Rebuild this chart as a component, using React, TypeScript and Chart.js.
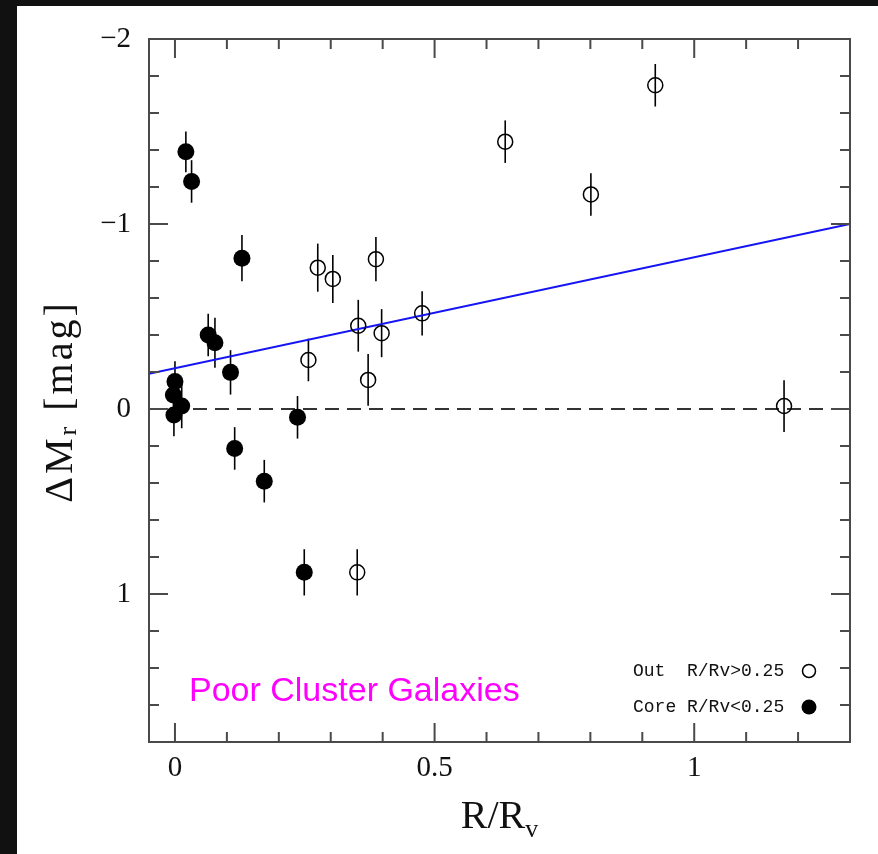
import React, { useEffect, useRef } from 'react';
import { Chart, registerables } from 'chart.js';

Chart.register(...registerables);

// ---- data ----
const coreX = [0.021, 0.032, 0.129, 0.064, 0.077, 0.107, 0.0, -0.003, 0.013, -0.002, 0.236, 0.115, 0.172, 0.249];
const coreY = [-1.39, -1.23, -0.815, -0.4, -0.358, -0.198, -0.148, -0.076, -0.016, 0.032, 0.045, 0.213, 0.39, 0.883];
const coreErr = [0.11, 0.115, 0.125, 0.115, 0.135, 0.12, 0.11, 0.11, 0.12, 0.115, 0.115, 0.115, 0.115, 0.125];

const outX = [0.275, 0.304, 0.387, 0.353, 0.398, 0.476, 0.257, 0.372, 0.351, 0.636, 0.801, 0.925, 1.173];
const outY = [-0.764, -0.703, -0.81, -0.45, -0.41, -0.517, -0.265, -0.157, 0.883, -1.445, -1.16, -1.75, -0.016];
const outErr = [0.13, 0.13, 0.12, 0.14, 0.13, 0.12, 0.115, 0.14, 0.125, 0.115, 0.115, 0.115, 0.14];

const fitX = [-0.05, 1.3];
const fitY = [-0.19, -1.0];
const zeroX = [-0.05, 1.3];
const zeroY = [0, 0];

const xRange = [-0.05, 1.3];
const yRange = [-2, 1.8];
const xTickValues = [0, 0.5, 1];
const yTickValues = [-2, -1, 0, 1];
const xMinorStep = 0.1;
const yMinorStep = 0.2;

const outLabel = 'Out  R/Rv>0.25';
const coreLabel = 'Core R/Rv<0.25';
const panelLabel = 'Poor Cluster Galaxies';

const toPts = (xs: number[], ys: number[]) => xs.map((x, i) => ({ x, y: ys[i] }));

const fmt = (v: number) => (v < 0 ? '\u2212' + Math.abs(v) : String(v));

const SERIF = '"Liberation Serif", "DejaVu Serif", serif';

const decorPlugin = {
  id: 'decor',
  beforeDatasetsDraw(chart: any) {
    const { ctx, scales } = chart;
    const xs = scales.x;
    const ys = scales.y;
    ctx.save();
    ctx.beginPath();
    ctx.rect(chart.chartArea.left, chart.chartArea.top, chart.chartArea.right - chart.chartArea.left, chart.chartArea.bottom - chart.chartArea.top);
    ctx.clip();
    ctx.strokeStyle = '#000';
    ctx.lineWidth = 1.6;
    chart.data.datasets.forEach((ds: any) => {
      if (!ds.errors) return;
      ds.data.forEach((p: any, i: number) => {
        const e = ds.errors[i];
        const px = xs.getPixelForValue(p.x);
        ctx.beginPath();
        ctx.moveTo(px, ys.getPixelForValue(p.y - e));
        ctx.lineTo(px, ys.getPixelForValue(p.y + e));
        ctx.stroke();
      });
    });
    ctx.restore();
  },
  afterDraw(chart: any) {
    const { ctx, chartArea: a, scales } = chart;
    const xs = scales.x;
    const ys = scales.y;
    ctx.save();
    // frame
    ctx.strokeStyle = '#4a4a4a';
    ctx.lineWidth = 2;
    ctx.strokeRect(a.left, a.top, a.right - a.left, a.bottom - a.top);
    // inward ticks on all four sides
    const major = 19;
    const minor = 10;
    ctx.beginPath();
    for (let k = Math.ceil(xRange[0] / xMinorStep); k * xMinorStep <= xRange[1] + 1e-9; k++) {
      const v = +(k * xMinorStep).toFixed(6);
      const px = xs.getPixelForValue(v);
      if (px <= a.left + 1 || px >= a.right - 1) continue;
      const len = xTickValues.some((t) => Math.abs(t - v) < 1e-6) ? major : minor;
      ctx.moveTo(px, a.bottom);
      ctx.lineTo(px, a.bottom - len);
      ctx.moveTo(px, a.top);
      ctx.lineTo(px, a.top + len);
    }
    for (let k = Math.ceil(yRange[0] / yMinorStep); k * yMinorStep <= yRange[1] + 1e-9; k++) {
      const v = +(k * yMinorStep).toFixed(6);
      const py = ys.getPixelForValue(v);
      if (py <= a.top + 1 || py >= a.bottom - 1) continue;
      const len = yTickValues.some((t) => Math.abs(t - v) < 1e-6) ? major : minor;
      ctx.moveTo(a.left, py);
      ctx.lineTo(a.left + len, py);
      ctx.moveTo(a.right, py);
      ctx.lineTo(a.right - len, py);
    }
    ctx.stroke();

    ctx.fillStyle = '#111';
    ctx.textBaseline = 'alphabetic';
    // y title: ΔM_r [mag]
    ctx.save();
    const cy = (a.top + a.bottom) / 2 + 11;
    ctx.translate(72, cy);
    ctx.rotate(-Math.PI / 2);
    (ctx as any).letterSpacing = '3px';
    const big = '40px ' + SERIF;
    const small = '26px ' + SERIF;
    ctx.font = big;
    const w1 = ctx.measureText('\u0394M').width;
    const w3 = ctx.measureText(' [mag]').width;
    ctx.font = small;
    const w2 = ctx.measureText('r').width;
    let pos = -(w1 + w2 + w3) / 2;
    ctx.font = big;
    ctx.textAlign = 'left';
    ctx.fillText('\u0394M', pos, 0);
    pos += w1;
    ctx.font = small;
    ctx.fillText('r', pos, 4);
    pos += w2;
    ctx.font = big;
    ctx.fillText(' [mag]', pos, 0);
    ctx.restore();

    // x title: R/R_v
    ctx.save();
    ctx.font = big;
    const t1 = ctx.measureText('R/R').width;
    ctx.font = small;
    const t2 = ctx.measureText('v').width;
    let xp = (a.left + a.right) / 2 - (t1 + t2) / 2;
    ctx.font = big;
    ctx.textAlign = 'left';
    ctx.fillText('R/R', xp, 828);
    xp += t1;
    ctx.font = small;
    ctx.fillText('v', xp, 837);
    ctx.restore();

    // legend
    ctx.font = '18px "Liberation Mono", "DejaVu Sans Mono", monospace';
    ctx.textAlign = 'left';
    ctx.textBaseline = 'middle';
    ctx.fillStyle = '#111';
    const ly1 = a.bottom - 71;
    const ly2 = a.bottom - 35;
    ctx.fillText(outLabel, a.right - 217, ly1);
    ctx.fillText(coreLabel, a.right - 217, ly2);
    ctx.strokeStyle = '#000';
    ctx.lineWidth = 1.5;
    ctx.beginPath();
    ctx.arc(a.right - 41, ly1, 6.5, 0, Math.PI * 2);
    ctx.stroke();
    ctx.fillStyle = '#000';
    ctx.beginPath();
    ctx.arc(a.right - 41, ly2, 7.5, 0, Math.PI * 2);
    ctx.fill();

    // panel label
    ctx.fillStyle = '#ff00ff';
    ctx.textBaseline = 'alphabetic';
    ctx.font = '34px "Liberation Sans", Arial, sans-serif';
    ctx.fillText(panelLabel, a.left + 40, a.bottom - 41);
    ctx.restore();
  },
};

export default function App() {
  const ref = useRef<HTMLCanvasElement>(null);
  useEffect(() => {
    if (!ref.current) return;
    const tickFont = { family: SERIF, size: 29 };
    const chart = new Chart(ref.current, {
      type: 'scatter',
      data: {
        datasets: [
          {
            label: coreLabel,
            data: toPts(coreX, coreY),
            errors: coreErr,
            pointRadius: 8.5,
            pointHoverRadius: 8.5,
            pointBackgroundColor: '#000',
            pointBorderColor: '#000',
            pointBorderWidth: 0,
          } as any,
          {
            label: outLabel,
            data: toPts(outX, outY),
            errors: outErr,
            pointRadius: 7.5,
            pointHoverRadius: 7.5,
            pointBackgroundColor: 'rgba(0,0,0,0)',
            pointBorderColor: '#000',
            pointBorderWidth: 1.5,
          } as any,
          {
            label: 'fit',
            data: toPts(fitX, fitY),
            showLine: true,
            pointRadius: 0,
            borderColor: 'rgb(20,20,245)',
            borderWidth: 2,
          },
          {
            label: 'zero',
            data: toPts(zeroX, zeroY),
            showLine: true,
            pointRadius: 0,
            borderColor: '#333',
            borderWidth: 2,
            borderDash: [14, 8],
          },
        ],
      },
      options: {
        animation: false,
        responsive: false,
        events: [],
        layout: { padding: { top: 39, right: 28, left: 0, bottom: 0 } },
        plugins: { legend: { display: false }, tooltip: { enabled: false } },
        scales: {
          x: {
            type: 'linear',
            position: 'bottom',
            min: xRange[0],
            max: xRange[1],
            grid: { display: false, drawTicks: false },
            border: { display: false },
            ticks: { font: tickFont, color: '#111', padding: 9, callback: (v: any) => fmt(Number(v)) },
            afterBuildTicks: (s: any) => {
              s.ticks = xTickValues.map((value) => ({ value }));
            },
            afterFit: (s: any) => {
              s.height = 112;
            },
          },
          y: {
            type: 'linear',
            min: yRange[0],
            max: yRange[1],
            reverse: true,
            grid: { display: false, drawTicks: false },
            border: { display: false },
            ticks: { font: tickFont, color: '#111', padding: 18, callback: (v: any) => fmt(Number(v)) },
            afterBuildTicks: (s: any) => {
              s.ticks = yTickValues.map((value) => ({ value }));
            },
            afterFit: (s: any) => {
              s.width = 149;
            },
          },
        },
      } as any,
      plugins: [decorPlugin],
    });
    return () => chart.destroy();
  }, []);

  return (
    <div style={{ position: 'fixed', left: 0, top: 0, width: 878, height: 854, background: '#111', overflow: 'hidden' }}>
      <div style={{ position: 'absolute', left: 17, top: 6, right: 0, bottom: 0, background: '#fff' }} />
      <canvas ref={ref} width={878} height={854} style={{ position: 'absolute', left: 0, top: 0, width: 878, height: 854 }} />
    </div>
  );
}
